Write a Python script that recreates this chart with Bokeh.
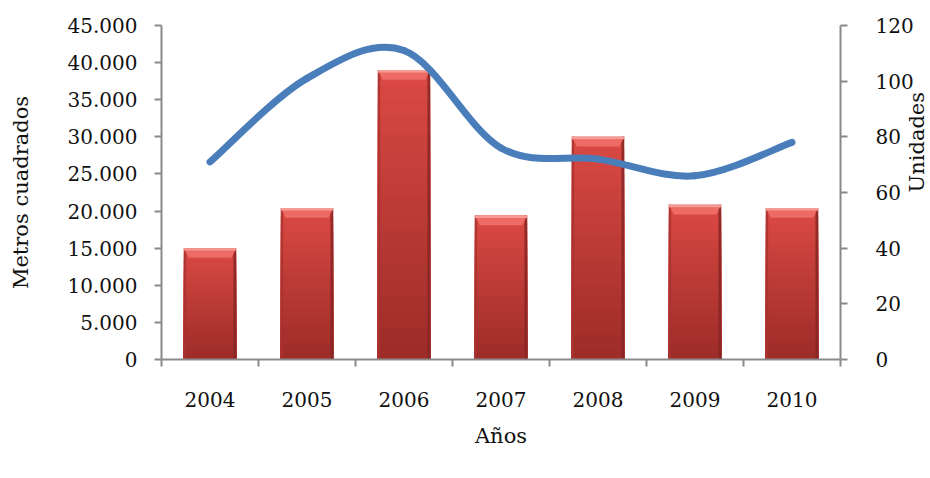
import math
from bokeh.plotting import figure
from bokeh.models import Range1d, LinearAxis, FixedTicker, Legend, LegendItem
from bokeh.embed import file_html
from bokeh.resources import INLINE

# ---- data ----
years = ["2004", "2005", "2006", "2007", "2008", "2009", "2010"]
area = [15000, 20400, 39000, 19400, 30000, 20850, 20400]
licencias = [71, 101, 111, 76, 72, 66, 78]
left_ticks = [0, 5000, 10000, 15000, 20000, 25000, 30000, 35000, 40000, 45000]
left_tick_labels = ["0", "5.000", "10.000", "15.000", "20.000", "25.000",
                    "30.000", "35.000", "40.000", "45.000"]
right_ticks = [0, 20, 40, 60, 80, 100, 120]

FONT = "DejaVu Serif"
AX = "#8a8a8a"

xs = list(range(len(years)))

p = figure(frame_width=679, frame_height=334, output_backend="svg", toolbar_location=None,
           x_range=Range1d(-0.5, len(years) - 0.5), y_range=Range1d(0, 45000),
           min_border_left=161, min_border_right=90, min_border_top=25,
           min_border_bottom=0)
p.extra_y_ranges = {"right": Range1d(0, 120)}
p.grid.visible = False
p.outline_line_color = None
p.background_fill_color = "white"
p.border_fill_color = "white"

# ---- bars: vertical gradient built from overlapping slices (light drawn first) ----
BW = 0.54
N = 18
bot_c = (158, 45, 42)
top_c = (218, 73, 67)
sx, st, sc = [], [], []
for i, v in zip(xs, area):
    for k in range(N - 1, -1, -1):
        f = k / (N - 1)
        c = tuple(int(bot_c[j] + (top_c[j] - bot_c[j]) * f) for j in range(3))
        sx.append(i)
        st.append(v * (k + 1) / N)
        sc.append("#%02x%02x%02x" % c)
body = p.vbar(x=sx, bottom=0, top=st, width=BW, fill_color=sc, line_color=None)

# darker side edges
p.vbar(x=[i - BW / 2 + 0.012 for i in xs], top=area, width=0.024,
       fill_color="#a8322f", line_color=None, fill_alpha=0.8)
p.vbar(x=[i + BW / 2 - 0.014 for i in xs], top=area, width=0.028,
       fill_color="#862624", line_color=None, fill_alpha=0.85)

# bevelled light top caps
CAP = 1300
INSET = 0.05
cxs, cys = [], []
for i, v in zip(xs, area):
    cxs.append([i - BW / 2, i + BW / 2, i + BW / 2 - INSET, i - BW / 2 + INSET])
    cys.append([v, v, v - CAP, v - CAP])
p.patches(cxs, cys, fill_color="#ee6a65", line_color=None)
p.vbar(x=xs, bottom=[v - 330 for v in area], top=area, width=BW,
       fill_color="#f59a95", line_color=None)

# ---- smooth line (Excel-style bezier through the points) ----
n = len(licencias)
bx0, by0, bx1, by1, c0x, c0y, c1x, c1y = [], [], [], [], [], [], [], []
for i in range(n - 1):
    im1 = max(i - 1, 0)
    ip2 = min(i + 2, n - 1)
    bx0.append(xs[i]); by0.append(licencias[i])
    bx1.append(xs[i + 1]); by1.append(licencias[i + 1])
    c0x.append(xs[i] + (xs[i + 1] - xs[im1]) / 6)
    c0y.append(licencias[i] + (licencias[i + 1] - licencias[im1]) / 6)
    c1x.append(xs[i + 1] - (xs[ip2] - xs[i]) / 6)
    c1y.append(licencias[i + 1] - (licencias[ip2] - licencias[i]) / 6)
line_r = p.bezier(x0=bx0, y0=by0, x1=bx1, y1=by1, cx0=c0x, cy0=c0y, cx1=c1x, cy1=c1y,
                  line_color="#4a7ebb", line_width=7, line_cap="round",
                  y_range_name="right")

# ---- axes ----
xa = p.xaxis[0]
xa.ticker = FixedTicker(ticks=xs, minor_ticks=[i - 0.5 for i in range(len(years) + 1)])
xa.major_label_overrides = {i: y for i, y in zip(xs, years)}
xa.major_tick_out = 0
xa.major_tick_in = 0
xa.minor_tick_out = 7
xa.minor_tick_in = 0
xa.minor_tick_line_color = AX
xa.major_label_standoff = 25
xa.axis_label = "Años"
xa.axis_label_standoff = 14

ya = p.yaxis[0]
ya.ticker = FixedTicker(ticks=left_ticks, minor_ticks=[])
ya.major_label_overrides = {t: l for t, l in zip(left_ticks, left_tick_labels)}
ya.axis_label = "Metros cuadrados"
ya.axis_label_standoff = 32
ya.major_label_standoff = 17

ra = LinearAxis(y_range_name="right", axis_label="Unidades")
ra.ticker = FixedTicker(ticks=right_ticks, minor_ticks=[])
ra.axis_label_orientation = math.pi / 2
ra.axis_label_standoff = 0
ra.major_label_standoff = 28
p.add_layout(ra, "right")

for a in [xa, ya, ra]:
    a.axis_line_color = AX
    a.axis_line_width = 2
    a.major_tick_line_color = AX
    a.major_tick_line_width = 2
    a.minor_tick_line_width = 2
    a.major_label_text_font = FONT
    a.major_label_text_font_size = "20px"
    a.major_label_text_color = "#111111"
    a.axis_label_text_font = FONT
    a.axis_label_text_font_size = "21px"
    a.axis_label_text_font_style = "normal"
    a.axis_label_text_color = "#111111"
for a in [ya, ra]:
    a.major_tick_out = 7
    a.major_tick_in = 0

# ---- legend below the axis title ----
legend = Legend(items=[LegendItem(label="Área", renderers=[body], index=8),
                       LegendItem(label="Licencias", renderers=[line_r])],
                orientation="horizontal", location="top_center",
                label_text_font=FONT, label_text_font_size="20px",
                label_text_color="#111111", glyph_width=50, glyph_height=14,
                label_standoff=5, spacing=24, border_line_color=None,
                background_fill_alpha=0, padding=0, margin=0,
                label_height=20)
p.add_layout(legend, "below")

open("out.html", "w").write(file_html(p, INLINE))
